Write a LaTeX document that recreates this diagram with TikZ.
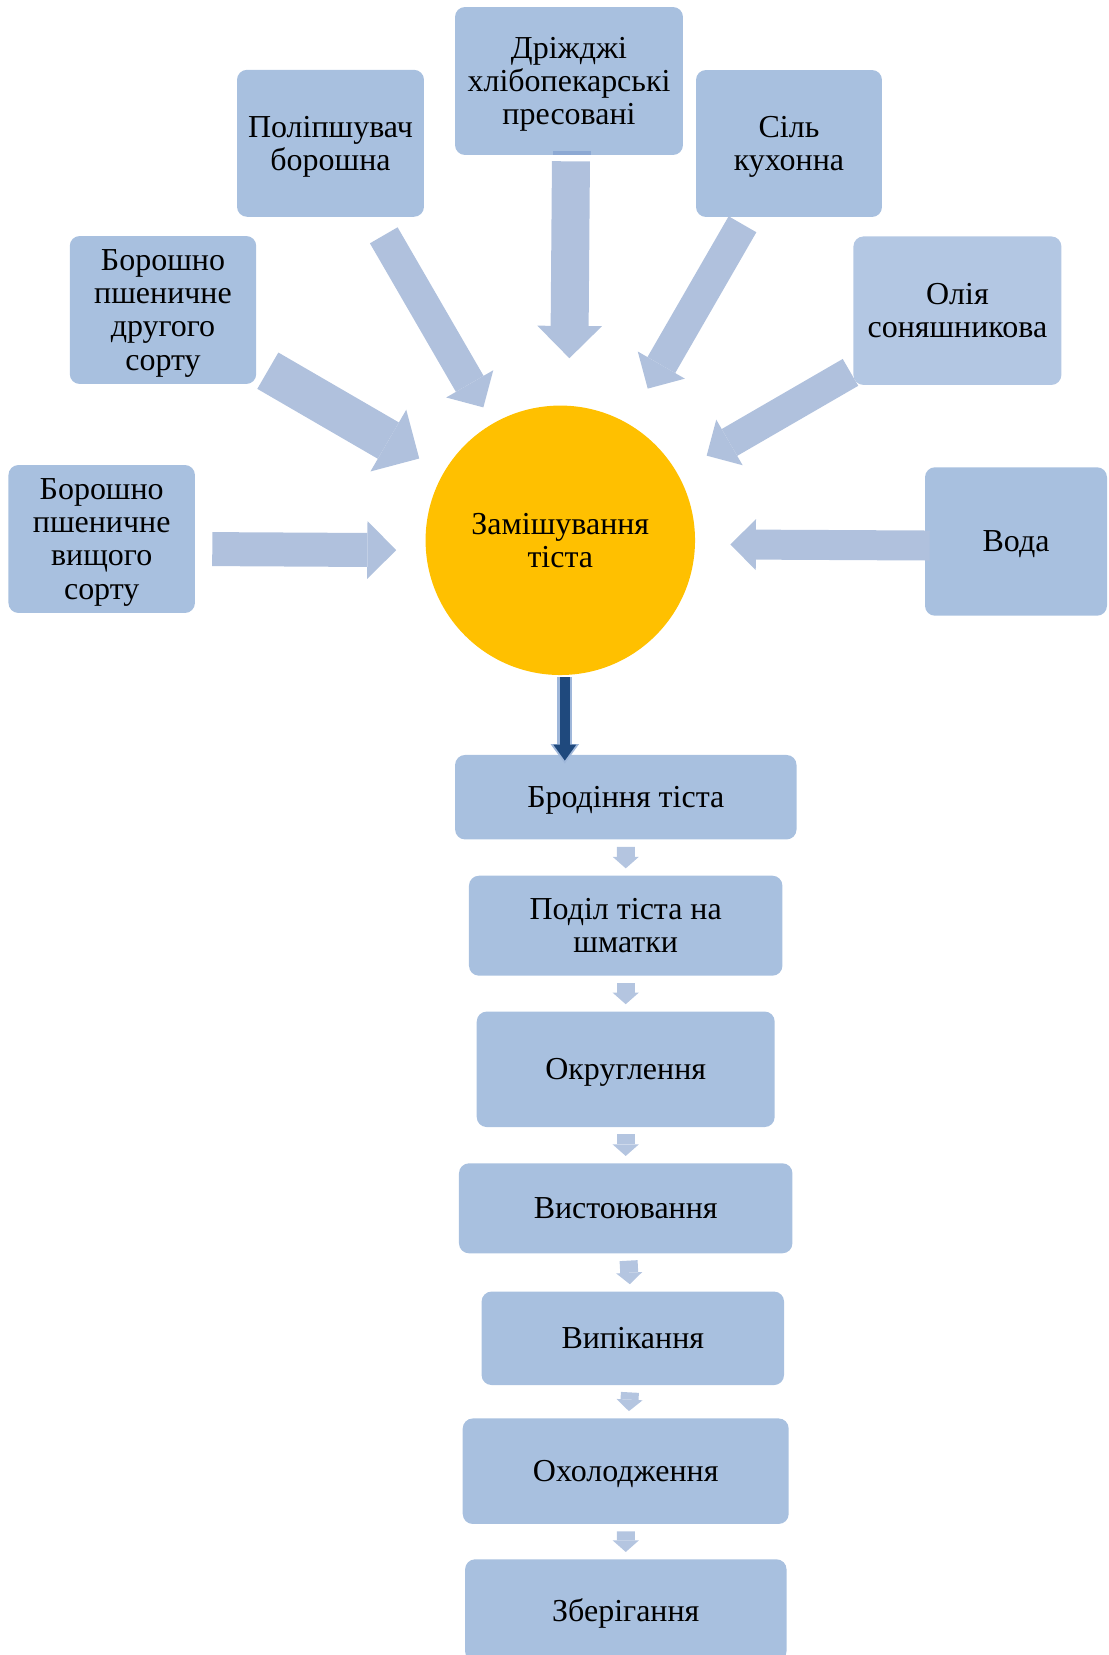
\documentclass[tikz,border=0pt]{standalone}
\usepackage{fontspec}
\setmainfont{Liberation Serif}
\usetikzlibrary{arrows.meta}
\definecolor{boxblue}{HTML}{A8C0DF}
\definecolor{paleblue}{HTML}{B3C7E3}
\definecolor{feedblue}{HTML}{B0C1DD}
\definecolor{stubblue}{HTML}{8DA9D3}
\definecolor{linkblue}{HTML}{B4C5E0}
\definecolor{mixgold}{HTML}{FFC000}
\definecolor{flowdark}{HTML}{1F497D}
\definecolor{flowedge}{HTML}{9FB7DA}
\tikzset{
  stage/.style={fill=boxblue, rounded corners=0.2cm, align=center, inner sep=0pt, text depth=0pt},
  feed/.style={draw=feedblue, line width=#1, -{Triangle[length=0pt 0.85, width=0pt 1.7, line width=0pt]}},
  feed/.default=0.66cm,
  link/.style={draw=linkblue, line width=0.36cm, shorten <=0.14cm, shorten >=0.14cm,
    -{Triangle[length=0pt 0.64, width=0pt 1.45, line width=0pt]}},
  mainflow/.style={draw=flowdark, line width=0.2cm, -{Triangle[length=0pt 1.6, width=0pt 2.3, line width=0pt]},
    preaction={draw=flowedge, line width=0.3cm, shorten >=-0.18cm, -{Triangle[length=0pt 1.3, width=0pt 1.9, line width=0pt]}}}
}
\begin{document}
\begin{tikzpicture}[x=0.02cm, y=-0.02cm, font=\fontsize{18.2pt}{18.8pt}\selectfont]
  \useasboundingbox (0,0) rectangle (1108,1655);
  \node[stage, minimum width=3.73cm, minimum height=2.96cm] (flourA) at (101.7,539) {Борошно\\пшеничне\\вищого\\сорту};
  \node[stage, minimum width=3.73cm, minimum height=2.96cm] (flourB) at (163,310) {Борошно\\пшеничне\\другого\\сорту};
  \node[stage, minimum width=3.74cm, minimum height=2.94cm] (improver) at (330.5,143.3) {Поліпшувач\\борошна};
  \node[stage, minimum width=4.56cm, minimum height=2.96cm] (yeast) at (569,81) {Дріжджі\\хлібопекарські\\пресовані};
  \node[stage, minimum width=3.72cm, minimum height=2.94cm] (salt) at (789,143.5) {Сіль\\кухонна};
  \node[stage, fill=paleblue, minimum width=4.16cm, minimum height=2.97cm] (oil) at (957.4,310.7) {Олія\\соняшникова};
  \node[stage, minimum width=3.64cm, minimum height=2.97cm] (water) at (1016,541.5) {Вода};
  \node[circle, fill=mixgold, minimum size=5.39cm, inner sep=0pt, align=center, text depth=0pt] (mix) at (560.3,540.3) {Замішування\\тіста};

  \node[stage, minimum width=6.83cm, minimum height=1.69cm] (ferm) at (625.8,797.2) {Бродіння тіста};
  \node[stage, minimum width=6.27cm, minimum height=2cm] (divide) at (625.7,925.7) {Поділ тіста на\\шматки};
  \node[stage, minimum width=5.96cm, minimum height=2.31cm] (round) at (625.7,1069.3) {Округлення};
  \node[stage, minimum width=6.67cm, minimum height=1.8cm] (proof) at (625.7,1208.3) {Вистоювання};
  \node[stage, minimum width=6.05cm, minimum height=1.87cm] (bake) at (632.8,1338.3) {Випікання};
  \node[stage, minimum width=6.52cm, minimum height=2.11cm] (cool) at (625.7,1471.2) {Охолодження};
  \node[stage, minimum width=6.43cm, minimum height=2.04cm] (store) at (625.8,1610.3) {Зберігання};

  \fill[stubblue] ([xshift=-0.33cm,yshift=0.09cm]yeast.south) rectangle ([xshift=0.44cm]yeast.south);
  \draw[feed=0.68cm, shorten <=0.34cm, shorten >=0.58cm] ([yshift=-0.2cm]flourA.east) -- ([yshift=-0.2cm]mix.west);
  \draw[feed=0.84cm, shorten <=0.26cm, shorten >=0.56cm] (flourB) -- (mix);
  \draw[feed=0.64cm, shorten <=0.42cm, shorten >=0.37cm] (improver) -- (mix);
  \coordinate (yeastin) at (yeast.south |- mix.north);
  \draw[feed=0.76cm, shorten <=0.12cm, shorten >=0.94cm] ([xshift=0.04cm]yeast.south) -- (yeastin);
  \draw[feed=0.64cm, shorten <=0.16cm, shorten >=0.8cm] (salt) -- (mix);
  \draw[feed=0.62cm, shorten <=0.06cm, shorten >=0.68cm] (oil) -- (mix);
  \draw[feed=0.6cm, shorten <=-0.1cm, shorten >=0.7cm] ([yshift=-0.08cm]water.west) -- ([yshift=-0.08cm]mix.east);

  \coordinate (fermin) at (ferm.north -| mix.south);
  \draw[mainflow, shorten <=0.04cm, shorten >=-0.12cm] ([xshift=0.09cm]mix.south) -- ([xshift=0.09cm]fermin);
  \draw[link] (ferm) -- (divide);
  \draw[link] (divide) -- (round);
  \draw[link] (round) -- (proof);
  \draw[link] (proof) -- (bake);
  \draw[link] (bake) -- (cool);
  \draw[link] (cool) -- (store);
\end{tikzpicture}
\end{document}
